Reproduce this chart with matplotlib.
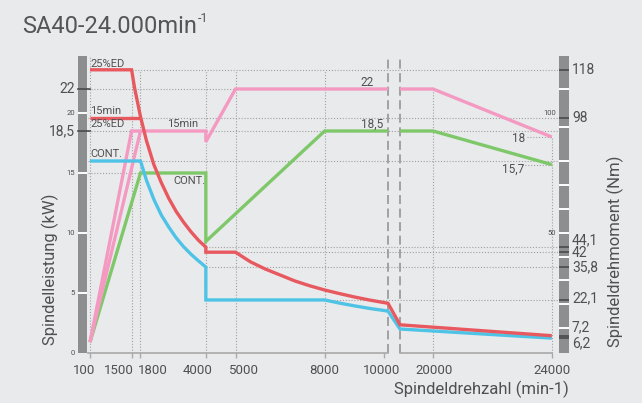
import matplotlib
matplotlib.use('Agg')
import matplotlib.pyplot as plt
import matplotlib.transforms as mtransforms

plt.rcParams['font.family'] = ['Roboto', 'DejaVu Sans']

# speed axis (min-1)
speed_ticks = [100, 1500, 1800, 4000, 5000, 8000, 10000, 20000, 24000]
speed_labels = ['100', '1500', '1800', '4000', '5000', '8000', '10000', '20000', '24000']
# nudge crowded labels sideways (pixels)
speed_label_dx = [-6, -13, 12, -8, 8, 0, -2, 1, 0]

# spindle power (kW) per duty type
red_ed_rpm = [100, 1500, 1600, 1800, 2000, 2250, 2500, 2750, 3000, 3250, 3500, 3750, 4000,
              4000, 5000, 5500, 6000, 6500, 7000, 7500, 8000, 8500, 9000, 9500, 10000, 10134,
              18889, 24000]
red_ed_kw = [23.6, 23.6, 22.1, 19.7, 17.7, 15.7, 14.2, 12.9, 11.8, 10.9, 10.1, 9.4, 8.82,
             8.4, 8.4, 7.6, 7.0, 6.5, 6.0, 5.6, 5.25, 4.95, 4.67, 4.42, 4.2, 4.14,
             2.35, 1.44]
red_15_rpm = [100, 1800]
red_15_kw = [19.6, 19.6]

blue_rpm = [100, 1800, 2000, 2250, 2500, 2750, 3000, 3250, 3500, 3750, 4000,
            4000, 8000, 8500, 9000, 9500, 10000, 10134, 18889, 24000]
blue_kw = [16, 16, 14.4, 12.8, 11.5, 10.5, 9.6, 8.86, 8.23, 7.68, 7.16,
           4.42, 4.42, 4.16, 3.93, 3.72, 3.54, 3.49, 2.0, 1.24]

pink_ed_rpm = [100, 1500, 4000, 4000, 5000, 10134]
pink_ed_kw = [0.9, 18.5, 18.5, 17.6, 22, 22]
pink_15_rpm = [100, 1800]
pink_15_kw = [0.9, 18.5]
pink_hi_rpm = [18889, 20000, 24000]
pink_hi_kw = [22, 22, 18]

green_rpm = [100, 1800, 4000, 4000, 8000, 10134]
green_kw = [0.9, 15, 15, 9.3, 18.5, 18.5]
green_hi_rpm = [18889, 20000, 24000]
green_hi_kw = [18.5, 18.5, 15.7]

# torque marks on the right scale (Nm), 5 Nm per kW on this chart
torque_marks = [118, 98, 44.1, 42, 35.8, 22.1, 7.2, 6.2]
torque_labels = ['118', '98', '44,1', '42', '35,8', '22,1', '7,2', '6,2']
torque_label_shift = [0, 0, 0.6, -0.05, 0, 0.15, 0.7, -0.4]
NM_PER_KW = 5.0

W, H = 642, 403
BG = '#e9eaec'
BAR = '#8d8e90'
TXT = '#505050'
GRID = '#a0a0a0'
RED = '#e8585f'
PINK = '#f49ac2'
GREEN = '#7ec86a'
BLUE = '#4fc3e6'

# axis is broken between 10134 and 18889 min-1
BREAK_LO, BREAK_HI = 10134, 18889
SHIFT = 8351


def xp(n):
    return n if n <= BREAK_LO else n - SHIFT


def xs(seq):
    return [xp(n) for n in seq]


fig = plt.figure(figsize=(W / 100, H / 100), dpi=100, facecolor=BG)
ax = fig.add_axes([88 / W, 50 / H, 470 / W, 297 / H], facecolor=BG)
x0 = 100 + (88 - 90) / 0.0297
x1 = 100 + (558 - 90) / 0.0297
ytop = 24.75
ax.set_xlim(x0, x1)
ax.set_ylim(0, ytop)
for s in ax.spines.values():
    s.set_visible(False)
ax.set_yticks([])
ax.set_xticks(xs(speed_ticks))
ax.set_xticklabels([])
ax.tick_params(axis='x', length=3.5, width=1, color='#a9a9a9')

# tick labels placed by hand so the close ones do not collide
offset = mtransforms.ScaledTranslation(0, 0, fig.dpi_scale_trans)
for n, lab, dx in zip(speed_ticks, speed_labels, speed_label_dx):
    tr = mtransforms.blended_transform_factory(ax.transData, ax.transAxes) + \
        mtransforms.ScaledTranslation(dx / 100, 0, fig.dpi_scale_trans)
    ax.text(xp(n), -18 / 297, lab, transform=tr, ha='center', va='center',
            fontsize=9.5, color=TXT, clip_on=False)

# dotted guide lines
dot = dict(color=GRID, lw=0.8, linestyle=(0, (1, 1.6)), zorder=1)
for y, a, b in [(23.6, 1500, None), (22, None, 5000), (19.6, None, None),
                (18.5, None, None), (16, None, None), (15, None, 1800),
                (8.82, 4000, None), (8.4, 5000, None), (7.16, 4000, None),
                (4.42, 8000, None), (18, 23165, 24000), (15.7, 22996, 24000)]:
    xa = x0 if a is None else xp(a)
    xb = x1 if b is None else xp(b)
    ax.plot([xa, xb], [y, y], **dot)
for n, top in [(100, ytop), (1500, 23.6), (1800, 23.6), (4000, 23.6), (5000, 23.6),
               (8000, 23.6), (20000, 22), (24000, 18)]:
    ax.plot([xp(n), xp(n)], [0, top], **dot)

# break markers and base line
dash = dict(color='#9c9c9c', lw=1.3, linestyle=(0, (5, 2.5)), zorder=2)
ax.plot([BREAK_LO, BREAK_LO], [0, ytop - 0.2], **dash)
ax.plot([xp(BREAK_HI), xp(BREAK_HI)], [0, ytop - 0.2], **dash)
base = dict(color='#a9a9a9', lw=1.2, clip_on=False, zorder=2)
ax.plot([x0, BREAK_LO], [0, 0], **base)
ax.plot([xp(BREAK_HI), xp(24000)], [0, 0], **base)

# curves
lw = 2.4
kw = dict(lw=lw, solid_joinstyle='miter', solid_capstyle='butt', zorder=3)
ax.plot(xs(green_rpm), green_kw, color=GREEN, **kw)
ax.plot(xs(green_hi_rpm), green_hi_kw, color=GREEN, **kw)
ax.plot(xs(pink_ed_rpm), pink_ed_kw, color=PINK, **kw)
ax.plot(xs(pink_15_rpm), pink_15_kw, color=PINK, **kw)
ax.plot(xs(pink_hi_rpm), pink_hi_kw, color=PINK, **kw)
ax.plot(xs(blue_rpm), blue_kw, color=BLUE, **kw)
ax.plot(xs(red_15_rpm), red_15_kw, color=RED, **kw)
ax.plot(xs(red_ed_rpm), red_ed_kw, color=RED, **kw)

# curve captions
cap = dict(fontsize=8, color=TXT, va='center', zorder=4)
ax.text(xp(100), 24.1, '25%ED', ha='left', **cap)
ax.text(xp(100), 20.2, '15min', ha='left', **cap)
ax.text(xp(100), 19.1, '25%ED', ha='left', **cap)
ax.text(xp(100), 16.55, 'CONT.', ha='left', **cap)
ax.text(2693, 19.1, '15min', ha='left', **cap)
ax.text(4000, 14.35, 'CONT.', ha='right', **cap)
val = dict(fontsize=8.5, color=TXT, va='center', ha='center', zorder=4)
ax.text(9427, 22.5, '22', **val)
ax.text(9612, 19.1, '18,5', **val)
ax.text(xp(22878), 17.85, '18', **val)
ax.text(xp(22711), 15.3, '15,7', **val)

# grey scale bars
lbar = fig.add_axes([78 / W, 50 / H, 9 / W, 297 / H], facecolor=BAR)
rbar = fig.add_axes([559 / W, 50 / H, 10 / W, 297 / H], facecolor=BAR)
for b in (lbar, rbar):
    b.set_ylim(0, ytop)
    b.set_xlim(0, 1)
    b.set_xticks([])
    b.set_yticks([])
    for s in b.spines.values():
        s.set_visible(False)

for y in [5, 10, 15, 20]:
    lbar.plot([0, 1], [y, y], color='white', lw=1.4)
for y in [22, 18.5]:
    lbar.plot([0, 1.3], [y, y], color='#4a4a4a', lw=1.2, clip_on=False)
for y in [22, 18.8, 16, 14, 12, 10, 8.0, 6.1, 4.1, 2.1]:
    rbar.plot([0, 1], [y, y], color='white', lw=1.4)
for t in torque_marks:
    rbar.plot([0, 1], [t / NM_PER_KW] * 2, color='#4a4a4a', lw=1.2)

# left scale labels
ltr = mtransforms.blended_transform_factory(fig.transFigure, ax.transData)
for y in [0, 5, 10, 15, 20]:
    fig.text(75 / W, y, str(y), transform=ltr, ha='right', va='center',
             fontsize=5.5, color=TXT)
fig.text(75 / W, 22, '22', transform=ltr, ha='right', va='center', fontsize=10, color=TXT)
fig.text(75 / W, 18.5, '18,5', transform=ltr, ha='right', va='center', fontsize=10, color=TXT)

# right scale labels
for t, lab, dy in zip(torque_marks, torque_labels, torque_label_shift):
    fig.text(572 / W, t / NM_PER_KW + dy, lab, transform=ltr, ha='left', va='center',
             fontsize=10, color=TXT)
for nm in [100, 50]:
    fig.text(556 / W, nm / NM_PER_KW, str(nm), transform=ltr, ha='right', va='center',
             fontsize=5.5, color=TXT)

# axis titles
fig.text(50 / W, 1 - 269 / H, 'Spindelleistung (kW)', rotation=90, ha='center',
         va='center', fontsize=12, color=TXT)
fig.text(615 / W, 1 - 251 / H, 'Spindeldrehmoment (Nm)', rotation=90, ha='center',
         va='center', fontsize=12, color=TXT)
fig.text(481 / W, 1 - 389 / H, 'Spindeldrehzahl (min-1)', ha='center', va='center',
         fontsize=12, color=TXT)

# chart title with superscript
title = fig.text(22 / W, 1 - 33 / H, 'SA40-24.000min', ha='left', va='baseline',
                 fontsize=17, color='#555555')
r = fig.canvas.get_renderer()
bb = title.get_window_extent(renderer=r)
fig.text(bb.x1 / W + 0.002, 1 - 22 / H, '-1', ha='left', va='baseline',
         fontsize=9, color='#555555')

fig.savefig('out.png', dpi=100, facecolor=BG)
